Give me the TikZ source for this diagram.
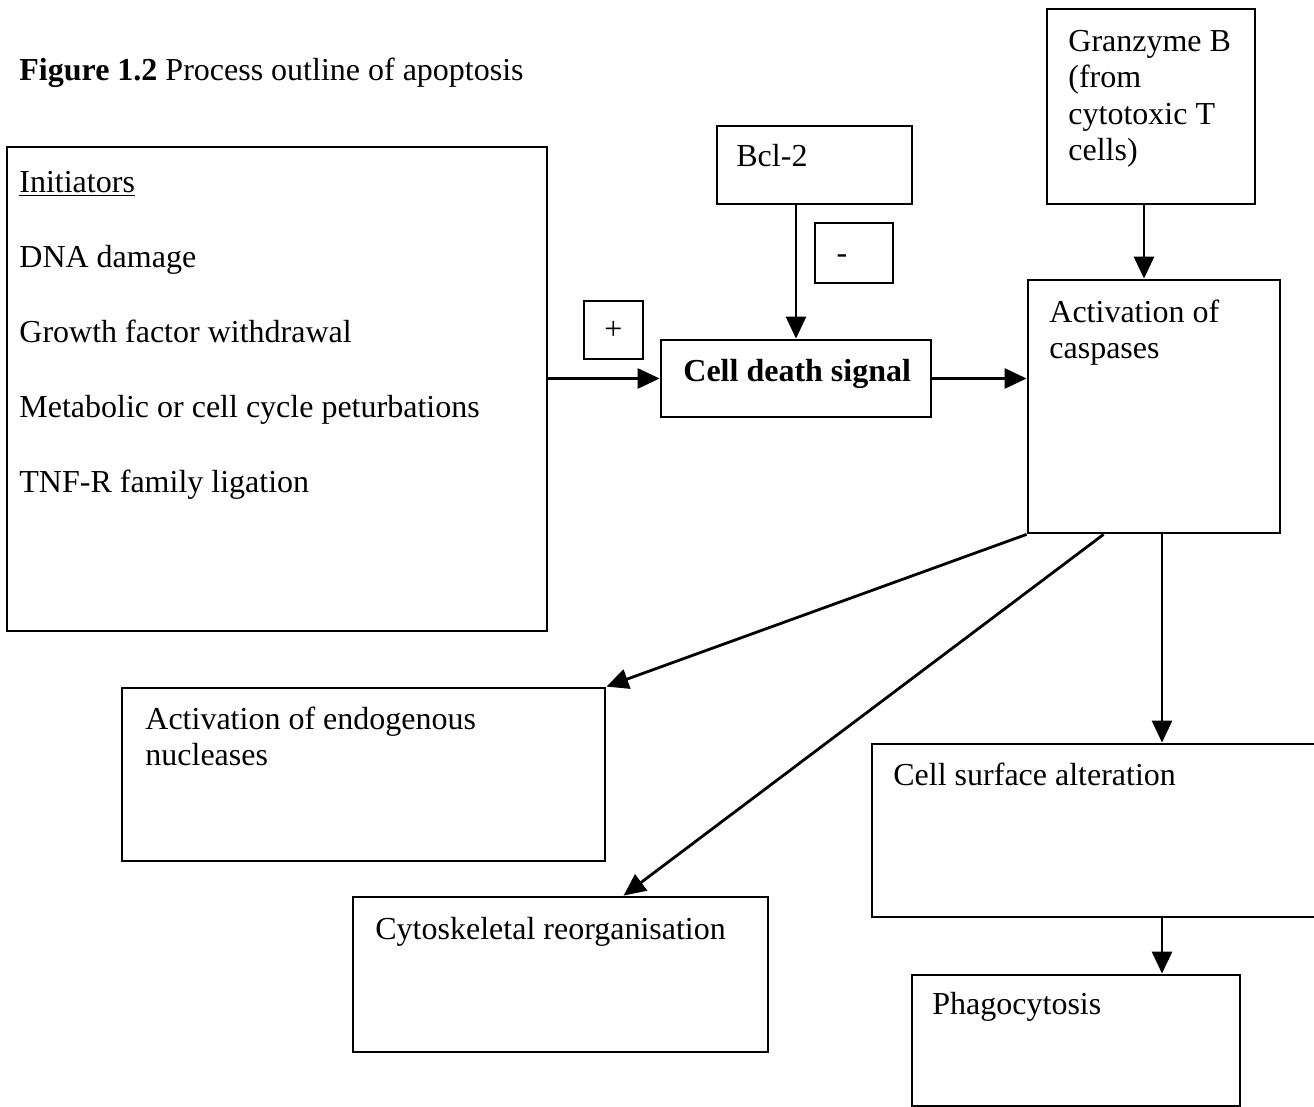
\documentclass[tikz,border=0pt]{standalone}
\usepackage{fontspec}
\setmainfont{Liberation Serif}
\usetikzlibrary{arrows.meta,fit,calc}
\begin{document}
\begin{tikzpicture}[x=0.5pt,y=-0.5pt,
  box/.style={draw, line width=1.4pt, inner sep=0pt, rectangle},
  txt/.style={inner sep=0pt, anchor=north west, align=left,
              font=\fontsize{16}{18.2}\selectfont, execute at begin node=\strut},
  sign/.style={inner sep=0pt, font=\fontsize{16}{18.2}\selectfont},
  arr/.style={line width=1.4pt, -{Triangle[length=11pt,width=10pt]}}]
\useasboundingbox (0,0) rectangle (1314,1107);
\clip (0,0) rectangle (1314,1107);

% title
\node[txt] (title) at (19,54.5) {\textbf{Figure 1.2} Process outline of apoptosis};

% boxes
\node[box, fit={(7,147) (547,631)}] (init) {};
\node[box, fit={(661,340) (931,417)}] (cds) {};
\node[box, fit={(584,301) (643,359)}] (plus) {};
\node[box, fit={(717,126) (912,204)}] (bcl) {};
\node[box, fit={(815,223) (893,283)}] (minus) {};
\node[box, fit={(1047,9) (1255,204)}] (gran) {};
\node[box, fit={(1028,280) (1280,533)}] (casp) {};
\node[box, fit={(122,688) (605,861)}] (nuc) {};
\node[box, fit={(353,897) (768,1052)}] (cyto) {};
\node[box, fit={(872,744) (1340,917)}] (surf) {};
\node[box, fit={(912,975) (1240,1106)}] (phago) {};

% texts
\node[sign] (tplus) at (plus.center) {+};
\node[sign, anchor=base] (tminus) at (842,264) {-};
\node[txt] (tinit) at (19,170.5) {\underline{Initiators}\\[19.3pt]DNA damage\\[19.3pt]Growth factor withdrawal\\[19.3pt]Metabolic or cell cycle peturbations\\[19.3pt]TNF-R family ligation};
\node[txt] (tcds) at (683,355.5) {\textbf{Cell death signal}};
\node[txt] (tbcl) at (736,140.5) {Bcl-2};
\node[txt] (tgran) at (1068,30) {Granzyme B\\(from\\cytotoxic T\\cells)};
\node[txt] (tcasp) at (1049,299.5) {Activation of\\caspases};
\node[txt] (tnuc) at (145,706.5) {Activation of endogenous\\nucleases};
\node[txt] (tcyto) at (375,913.5) {Cytoskeletal reorganisation};
\node[txt] (tsurf) at (893,759.5) {Cell surface alteration};
\node[txt] (tphago) at (932,988.5) {Phagocytosis};

% connectors
\coordinate (gx) at (1144,0);
\coordinate (sx) at (1162,0);
\draw[arr] (init.east |- cds.west) -- (cds.west);
\draw[arr] (bcl.south -| cds.north) -- (cds.north);
\draw[arr] (gran.south -| gx) -- (casp.north -| gx);
\draw[arr] (cds.east) -- (cds.east -| casp.west);
\draw[arr] (casp.south west) -- (nuc.north east);
\draw[arr] ($(casp.south west)+(77,0)$) -- ($(cyto.north west)+(272,0)$);
\draw[arr] (casp.south -| sx) -- (surf.north -| sx);
\draw[arr] (surf.south -| sx) -- (phago.north -| sx);
\end{tikzpicture}
\end{document}
